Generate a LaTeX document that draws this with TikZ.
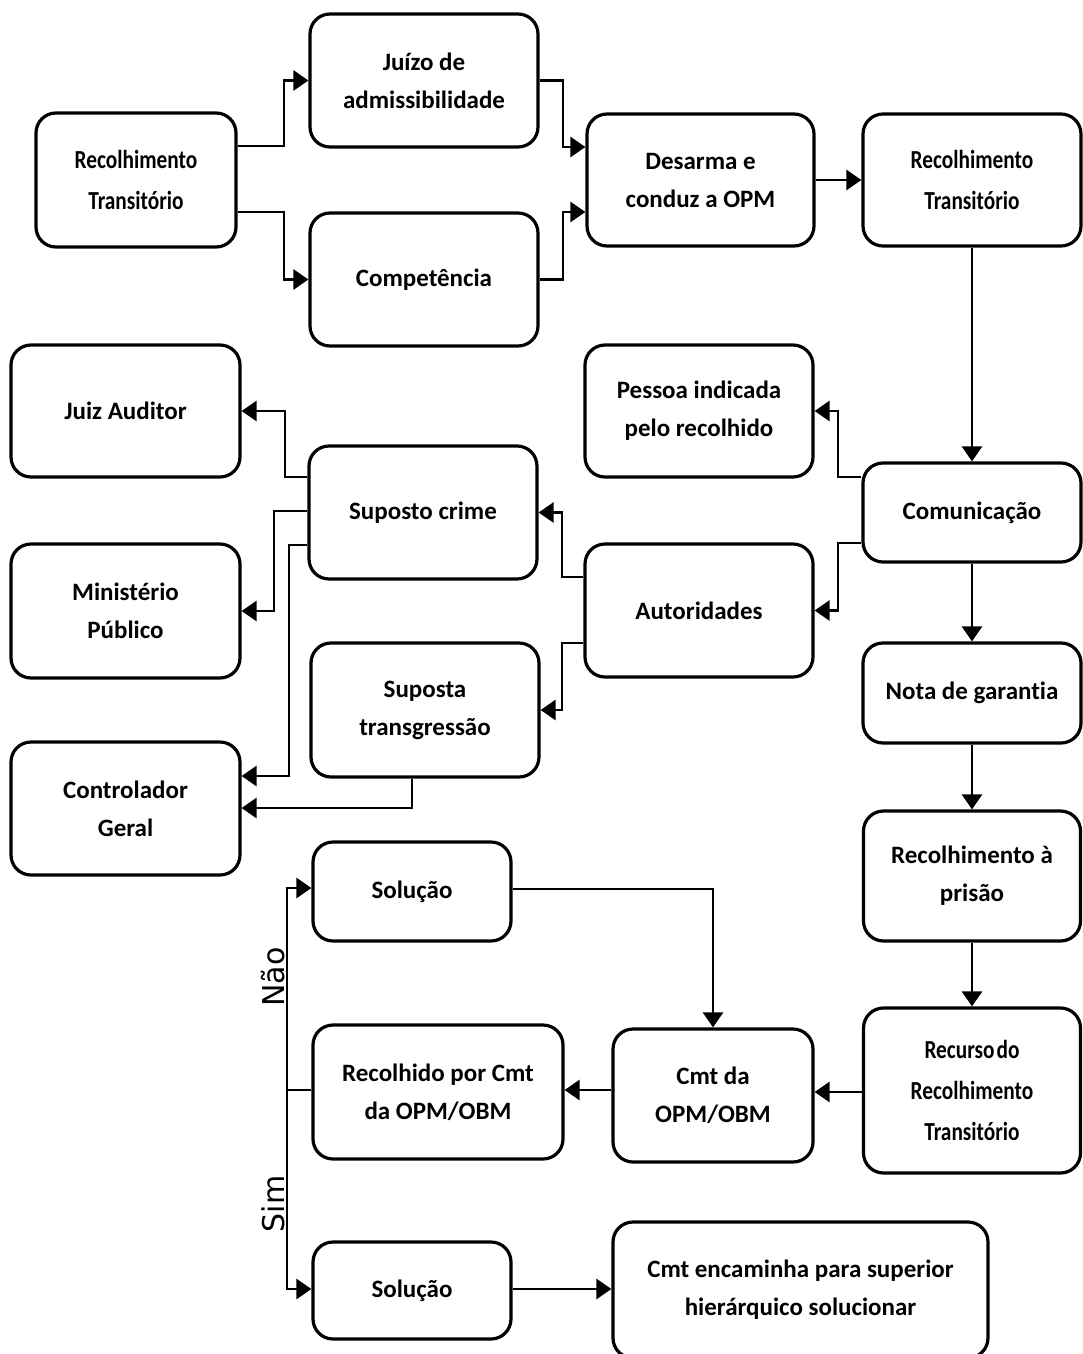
\documentclass[tikz,border=0pt]{standalone}
\usepackage{fontspec}
\setmainfont{Carlito}[Ligatures=NoCommon]
\newfontfamily\narrowfont{Carlito}[FakeStretch=0.82, Ligatures=NoCommon]
\newfontfamily\labelfont{DejaVu Sans}
\usetikzlibrary{arrows.meta}

\begin{document}
\begin{tikzpicture}[x=1pt,y=-1pt,
  box/.style={draw, line width=3.2pt, rounded corners=20pt, align=center,
    font=\fontsize{25}{38}\selectfont\bfseries, inner sep=0pt},
  narrow/.style={font=\fontsize{26}{41}\selectfont\narrowfont\bfseries},
  wh/.style 2 args={minimum width=#1pt, minimum height=#2pt},
  arr/.style={line width=2.8pt, -{Triangle[length=15pt,width=20pt]}},
  link/.style={line width=2.8pt},
  lbl/.style={font=\fontsize{30}{36}\selectfont\labelfont, rotate=90, inner sep=0pt}]

\useasboundingbox (0,0) rectangle (1083,1354);
\clip (0,0) rectangle (1083,1354);

% ---- top row
\node[box, narrow, wh={200}{134}] (rt1) at (136,180) {Recolhimento\\Transitório};
\node[box, wh={228}{133}] (juizo) at (424,80.5) {Juízo de\\admissibilidade};
\node[box, wh={228}{133}] (comp) at (424,279.5) {Competência};
\node[box, wh={227}{132}] (desarma) at (700.5,180) {Desarma e\\conduz a OPM};
\node[box, narrow, wh={218}{132}] (rt2) at (972,180) {Recolhimento\\Transitório};

% ---- right column
\node[box, wh={228}{132}] (pessoa) at (699,411) {Pessoa indicada\\pelo recolhido};
\node[box, wh={218}{99}] (com) at (972,512.5) {Comunicação};
\node[box, wh={228}{133}] (aut) at (699,610.5) {Autoridades};
\node[box, wh={218}{100}] (nota) at (972,693) {Nota de garantia};
\node[box, wh={217}{130}] (rap) at (972,876) {Recolhimento à\\prisão};
\node[box, narrow, wh={217}{165}] (recurso) at (972,1090.5) {Recurso\hspace{2pt}do\\Recolhimento\\Transitório};

% ---- left side
\node[box, wh={229}{132}] (ja) at (125.5,411) {Juiz Auditor};
\node[box, wh={228}{133}] (sc) at (423,512.5) {Suposto crime};
\node[box, wh={229}{134}] (mp) at (125.5,611) {Ministério\\Público};
\node[box, wh={228}{134}] (st) at (425,710) {Suposta\\transgressão};
\node[box, wh={229}{133}] (cg) at (125.5,808.5) {Controlador\\Geral};

% ---- bottom part
\node[box, wh={198}{99}] (sol1) at (412,891.5) {Solução};
\node[box, wh={250}{134}] (recolhido) at (438,1092) {Recolhido por Cmt\\da OPM/OBM};
\node[box, wh={200}{133}] (cmtda) at (713,1095.5) {Cmt da\\OPM/OBM};
\node[box, wh={198}{97}] (sol2) at (412,1290.5) {Solução};
\node[box, wh={375}{136}] (cmtenc) at (800.5,1290) {Cmt encaminha para superior\\hierárquico solucionar};

% ---- connectors, top row
\draw[arr] (rt1.east |- 0,146) -- (284,146) |- (juizo.west);
\draw[arr] (rt1.east |- 0,212) -- (284,212) |- (comp.west);
\draw[arr] (juizo.east) -- (563,80.5) |- (desarma.west |- 0,147);
\draw[arr] (comp.east) -- (563,279.5) |- (desarma.west |- 0,212);
\draw[arr] (desarma.east) -- (rt2.west);

% ---- right column flow
\draw[arr] (rt2.south) -- (com.north);
\draw[arr] (com.west |- 0,477) -- (838,477) |- (pessoa.east);
\draw[arr] (com.west |- 0,543) -- (838,543) |- (aut.east);
\draw[arr] (com.south) -- (nota.north);
\draw[arr] (nota.south) -- (rap.north);
\draw[arr] (rap.south) -- (recurso.north);

% ---- authorities
\draw[arr] (aut.west |- 0,577) -- (562,577) |- (sc.east);
\draw[arr] (aut.west |- 0,643) -- (562,643) |- (st.east);
\draw[arr] (sc.west |- 0,477) -- (285,477) |- (ja.east);
\draw[arr] (sc.west |- 0,511) -- (274,511) |- (mp.east);
\draw[arr] (sc.west |- 0,545) -- (289,545) |- (cg.east |- 0,776);
\draw[arr] (st.south -| 412,0) -- (412,808) -- (cg.east |- 0,808);

% ---- bottom flow
\draw[arr] (recurso.west |- 0,1092) -- (cmtda.east |- 0,1092);
\draw[arr] (cmtda.west |- 0,1090) -- (recolhido.east |- 0,1090);
\draw[arr] (sol1.east |- 0,889) -| (cmtda.north);
\coordinate (split) at (287,1090);
\draw[link] (recolhido.west |- 0,1090) -- (split);
\draw[arr] (split) |- (sol1.west |- 0,888);
\draw[arr] (split) |- (sol2.west |- 0,1289);
\draw[arr] (sol2.east |- 0,1289) -- (cmtenc.west |- 0,1289);

% ---- branch labels
\node[lbl] (nao) at (273,977) {Não};
\node[lbl] (sim) at (273,1204) {Sim};
\end{tikzpicture}
\end{document}
